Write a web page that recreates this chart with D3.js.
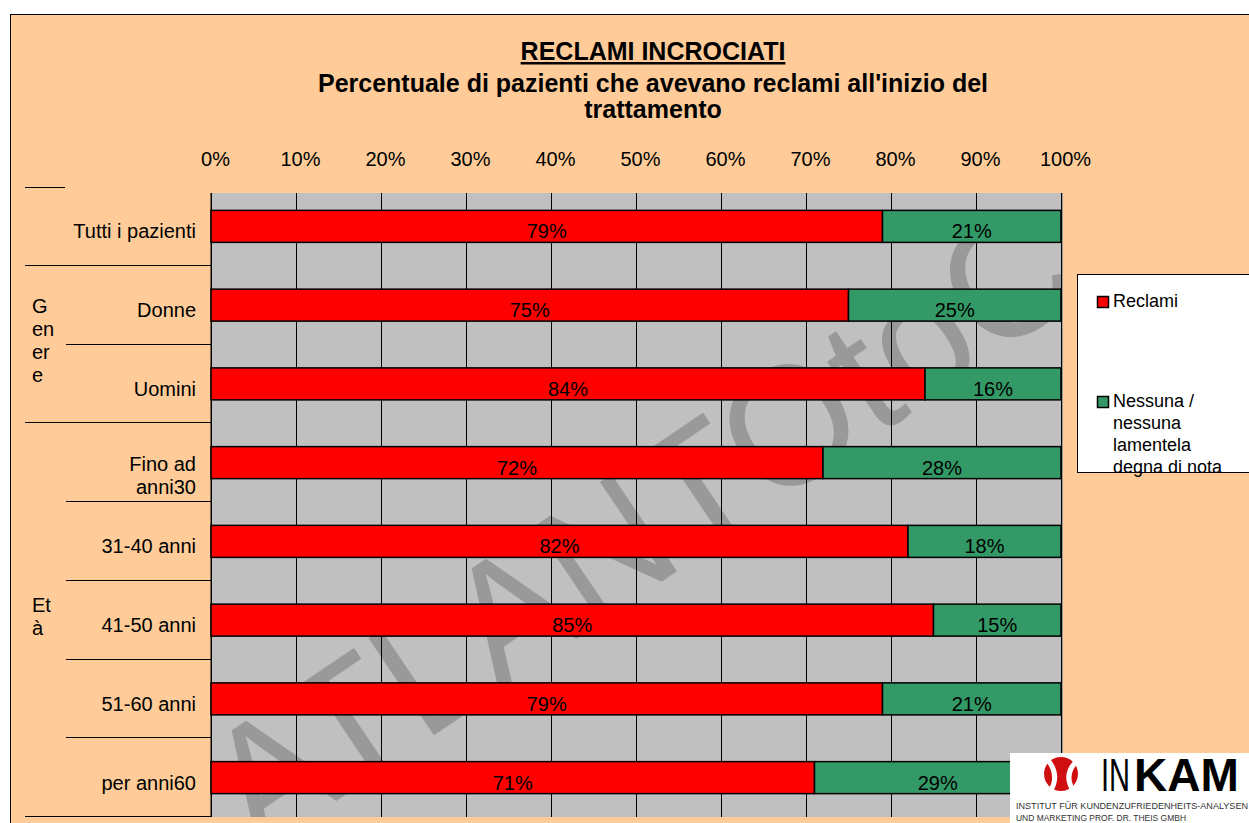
<!DOCTYPE html>
<html><head><meta charset="utf-8">
<script src="https://cdn.jsdelivr.net/npm/d3@7"></script>
<style>
html,body{margin:0;padding:0;background:#fff;overflow:hidden}
svg{display:block;font-family:"Liberation Sans",Arial,sans-serif}
</style></head><body>
<svg id="chart" width="1249" height="823"></svg>
<script>
// ---- data ----
const categories = ["Tutti i pazienti","Donne","Uomini","Fino ad anni30","31-40 anni","41-50 anni","51-60 anni","per anni60"];
const categoryLines = [["Tutti i pazienti"],["Donne"],["Uomini"],["Fino ad","anni30"],["31-40 anni"],["41-50 anni"],["51-60 anni"],["per anni60"]];
const reclami = [79,75,84,72,82,85,79,71];
const nessuna = [21,25,16,28,18,15,21,29];
const seriesNames = ["Reclami","Nessuna / nessuna lamentela degna di nota"];
const legendLines = [["Reclami"],["Nessuna /","nessuna","lamentela","degna di nota"]];
const groupLines = [[],["G","en","er","e"],["Et","à"]];
const groupOfRow = [0,1,1,2,2,2,2,2];
const tickValues = [0,10,20,30,40,50,60,70,80,90,100];
const title = "RECLAMI INCROCIATI";
const subtitleLines = ["Percentuale di pazienti che avevano reclami all'inizio del","trattamento"];
const watermark = "ATLANTOtoC";

// ---- style ----
const colors = ["#FF0000","#339966"];
const svg = d3.select("#chart");
const plotLeft = 211, plotRight = 1061, plotTop = 193, plotBottom = 817;

// outer frame
svg.append("rect").attr("x",10.5).attr("y",14.5).attr("width",1300).attr("height",900)
  .attr("fill","#FFCC99").attr("stroke","#000").attr("stroke-width",1);

// title
svg.append("text").attr("x",653).attr("y",60).attr("text-anchor","middle")
  .attr("font-size",25).attr("font-weight","bold").attr("text-decoration","underline").text(title);
subtitleLines.forEach((t,i)=>{
  svg.append("text").attr("x",653).attr("y",92+i*26).attr("text-anchor","middle")
    .attr("font-size",25).attr("font-weight","bold").text(t);
});

// scales
const x = d3.scaleLinear().domain([0,100]).range([plotLeft,plotRight]);
const y = d3.scaleBand().domain(categories).range([187,817]).padding(0);
const bw = y.bandwidth();
const barH = 32;

// plot background
svg.append("defs").append("clipPath").attr("id","pc").append("rect")
  .attr("x",plotLeft).attr("y",plotTop).attr("width",plotRight-plotLeft+2).attr("height",plotBottom-plotTop);
svg.append("rect").attr("x",plotLeft).attr("y",plotTop).attr("width",plotRight-plotLeft)
  .attr("height",plotBottom-plotTop).attr("fill","#C0C0C0");
svg.append("line").attr("x1",plotRight+1).attr("x2",plotRight+1).attr("y1",plotTop).attr("y2",plotBottom)
  .attr("stroke","#9a9a9a").attr("stroke-width",2);

// watermark
svg.append("g").attr("clip-path","url(#pc)")
  .append("text").attr("transform","translate(640,525) rotate(-34)")
  .attr("text-anchor","middle").attr("dominant-baseline","central")
  .attr("font-size",170).attr("fill","#999999").attr("textLength",1000).attr("lengthAdjust","spacingAndGlyphs")
  .text(watermark);

// gridlines
const grid = svg.append("g").attr("transform",`translate(0,${plotTop})`)
  .call(d3.axisBottom(x).tickValues(tickValues).tickSize(plotBottom-plotTop).tickFormat(""));
grid.select(".domain").remove();
grid.selectAll("line").attr("stroke","#000").attr("stroke-width",1);

// top tick labels
const ax = svg.append("g").attr("transform",`translate(0,166)`)
  .call(d3.axisTop(x).tickValues(tickValues).tickSize(0).tickPadding(0).tickFormat(d=>d+"%"));
ax.select(".domain").remove();
ax.selectAll("text").attr("font-size",20).attr("font-family","Liberation Sans, Arial, sans-serif")
  .attr("fill","#000").attr("dy",0).attr("y",0).attr("dx",4);

// left axis line
svg.append("line").attr("x1",plotLeft).attr("x2",plotLeft).attr("y1",plotTop).attr("y2",plotBottom)
  .attr("stroke","#000");

// separator lines
const bounds = categories.map(c=>y(c)).concat([817]);
svg.append("line").attr("x1",25).attr("x2",65).attr("y1",187.5).attr("y2",187.5).attr("stroke","#000");
for(let i=1;i<=categories.length;i++){
  const yy = Math.round(bounds[i])-0.5;
  const groupBreak = i===categories.length || groupOfRow[i]!==groupOfRow[i-1];
  svg.append("line").attr("x1",groupBreak?25:66).attr("x2",plotLeft).attr("y1",yy).attr("y2",yy)
    .attr("stroke","#000").attr("stroke-width",1);
}

// category labels
categories.forEach((c,i)=>{
  const lines = categoryLines[i];
  const cy = y(c)+bw/2;
  const start = lines.length===1 ? cy+12 : cy+8;
  lines.forEach((t,j)=>{
    svg.append("text").attr("x",196).attr("y",start+j*23).attr("text-anchor","end")
      .attr("font-size",20).text(t);
  });
});

// group labels
groupLines.forEach((lines,g)=>{
  if(!lines.length) return;
  const rows = categories.filter((c,i)=>groupOfRow[i]===g);
  const top = y(rows[0]), bot = y(rows[rows.length-1])+bw;
  const center = (top+bot)/2;
  const first = center - (lines.length-1)*23/2 + 3;
  lines.forEach((t,j)=>{
    svg.append("text").attr("x",32).attr("y",first+j*23).attr("font-size",20).text(t);
  });
});

// stacked bars
const stackData = categories.map((c,i)=>({cat:c, s0:reclami[i], s1:nessuna[i]}));
const stacked = d3.stack().keys(["s0","s1"])(stackData);
stacked.forEach((layer,k)=>{
  const g = svg.append("g");
  g.selectAll("rect").data(layer).join("rect")
    .attr("x",d=>x(d[0])).attr("width",d=>x(d[1])-x(d[0]))
    .attr("y",d=>y(d.data.cat)+bw/2-barH/2).attr("height",barH)
    .attr("fill",colors[k]).attr("stroke","#000").attr("stroke-width",1.5);
  g.selectAll("text").data(layer).join("text")
    .attr("x",d=>(x(d[0])+x(d[1]))/2).attr("y",d=>y(d.data.cat)+bw/2+12)
    .attr("text-anchor","middle").attr("font-size",20)
    .text(d=>(d[1]-d[0])+"%");
});

// legend
svg.append("rect").attr("x",1077.5).attr("y",274.5).attr("width",200).attr("height",198)
  .attr("fill","#fff").attr("stroke","#000");
const legendTop = [307, 407];
seriesNames.forEach((s,k)=>{
  svg.append("rect").attr("x",1097.5).attr("y",legendTop[k]-10.5).attr("width",11).attr("height",11)
    .attr("fill",colors[k]).attr("stroke","#000").attr("stroke-width",1.5);
  legendLines[k].forEach((t,j)=>{
    svg.append("text").attr("x",1113).attr("y",legendTop[k]+j*22).attr("font-size",18).text(t);
  });
});

// logo
const logo = svg.append("g");
logo.append("rect").attr("x",1010).attr("y",753).attr("width",260).attr("height",80).attr("fill","#fff");
logo.append("circle").attr("cx",1061).attr("cy",774).attr("r",17).attr("fill","#D01010");
logo.append("path").attr("d","M1046,758 Q1061,774 1050,792 M1078,760 Q1062,774 1074,792")
  .attr("fill","none").attr("stroke","#fff").attr("stroke-width",5);
logo.append("text").attr("x",1101).attr("y",791).attr("font-size",46)
  .attr("textLength",29).attr("lengthAdjust","spacingAndGlyphs").text("IN");
logo.append("text").attr("x",1134).attr("y",791).attr("font-size",46).attr("font-weight","bold").text("KAM");
logo.append("text").attr("x",1016).attr("y",809).attr("font-size",9).attr("fill","#333")
  .attr("textLength",232).attr("lengthAdjust","spacingAndGlyphs").text("INSTITUT FÜR KUNDENZUFRIEDENHEITS-ANALYSEN");
logo.append("text").attr("x",1016).attr("y",821).attr("font-size",9).attr("fill","#333")
  .attr("textLength",170).attr("lengthAdjust","spacingAndGlyphs").text("UND MARKETING PROF. DR. THEIS GMBH");
</script>
</body></html>
